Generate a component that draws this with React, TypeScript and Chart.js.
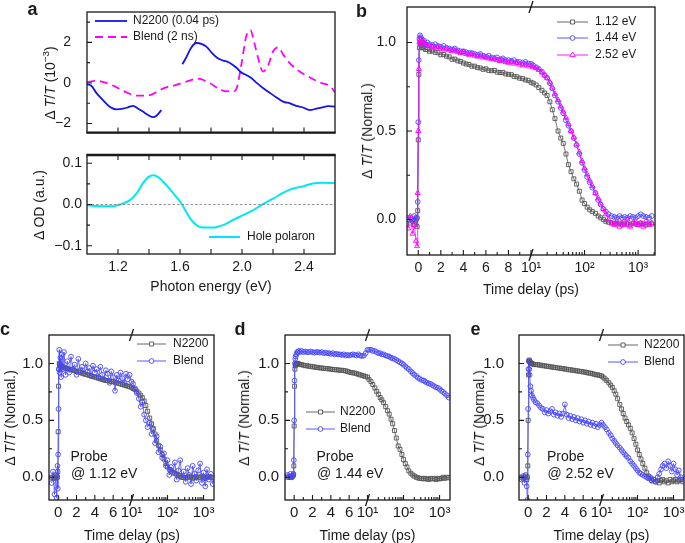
import React, { useEffect, useRef } from "react";
import { Chart, registerables } from "chart.js";

Chart.register(...registerables);

const FONT = '"Liberation Sans", Arial, Helvetica, sans-serif';
const INK = "#1a1a1a";
const GRAY = "rgb(85,85,85)";
const BLUE_PT = "rgb(70,70,255)";
const MAGENTA = "rgb(255,0,255)";
const LINE_BLUE = "rgb(20,20,235)";
const CYAN = "rgb(0,232,240)";

// ---------------- panel a data ----------------
const photonEnergyN2200 = [
  1.0, 1.028, 1.06, 1.103, 1.146, 1.19, 1.232, 1.265, 1.297, 1.33, 1.36, 1.394, 1.426, 1.448, 1.48,
  1.55,
  1.615, 1.641, 1.674, 1.706, 1.738, 1.77, 1.803, 1.835, 1.867, 1.9, 1.932, 1.964, 1.996, 2.03, 2.06,
  2.095, 2.135, 2.18, 2.22, 2.265, 2.31, 2.35, 2.39, 2.437, 2.48, 2.52, 2.555, 2.6,
];
const dTN2200 = [
  -0.07, -0.14, -0.49, -0.85, -1.17, -1.3, -1.27, -1.2, -1.13, -1.27, -1.41, -1.58, -1.69, -1.62, -1.34,
  null,
  0.92, 1.27, 1.76, 1.97, 1.93, 1.79, 1.51, 1.27, 1.13, 1.06, 0.94, 0.75, 0.52, 0.38, 0.24,
  0.0, -0.25, -0.49, -0.7, -0.92, -1.01, -1.13, -1.2, -1.34, -1.27, -1.2, -1.14, -1.17,
];
const photonEnergyBlend = [
  1.0, 1.06, 1.125, 1.19, 1.254, 1.32, 1.383, 1.448, 1.49, 1.555, 1.641, 1.716, 1.79, 1.867, 1.942,
  1.968, 1.996, 2.028, 2.054, 2.082, 2.11, 2.135, 2.168, 2.2, 2.232, 2.265, 2.308, 2.372, 2.437, 2.51,
  2.566, 2.6,
];
const dTBlend = [
  0.04, 0.1, 0.0, -0.21, -0.46, -0.63, -0.63, -0.46, -0.28, -0.14, 0.07, 0.21, 0.0, -0.35, -0.42,
  -0.21, 0.92, 2.32, 2.61, 1.9, 1.06, 0.56, 0.85, 1.55, 1.76, 1.41, 0.98, 0.56, 0.28, 0.0,
  -0.14, -0.46,
];
const photonEnergyPolaron = [
  1.0, 1.08, 1.168, 1.22, 1.275, 1.32, 1.36, 1.398, 1.43, 1.47, 1.512, 1.566, 1.61, 1.64, 1.674,
  1.706, 1.748, 1.813, 1.877, 1.94, 2.006, 2.07, 2.135, 2.2, 2.264, 2.33, 2.394, 2.458, 2.52, 2.6,
];
const dODPolaron = [
  -0.002, -0.004, -0.004, 0.001, 0.01, 0.027, 0.051, 0.067, 0.071, 0.063, 0.047, 0.023, 0.002, -0.018, -0.038,
  -0.05, -0.056, -0.056, -0.05, -0.038, -0.026, -0.014, 0.001, 0.014, 0.028, 0.039, 0.044, 0.051, 0.053, 0.052,
];

// ---------------- kinetics data (time delay in ps) ----------------
// panel b: linear 0-10 ps, then log
const timeDelay = [
  -0.9, -0.7, -0.5, -0.35, -0.2, -0.1, -0.05, 0, 0.05,
  0.1, 0.15, 0.2, 0.3, 0.4, 0.5, 0.65, 0.8, 1.0,
  1.25, 1.5, 1.75, 2, 2.25, 2.5, 2.75, 3, 3.25,
  3.5, 3.75, 4, 4.25, 4.5, 4.75, 5, 5.25, 5.5,
  5.75, 6, 6.25, 6.5, 6.75, 7, 7.25, 7.5, 7.75,
  8, 8.25, 8.5, 8.75, 9, 9.25, 9.5, 9.75, 10,
  11, 12.5, 14, 16, 18, 20, 22.5, 25, 28,
  32, 36, 40, 45, 50, 56, 63, 71, 80,
  90, 100, 112, 125, 140, 160, 180, 200, 225,
  250, 280, 320, 360, 400, 450, 500, 560, 630,
  710, 800, 900, 1000, 1120, 1250, 1400, 1600, 1800,
];
// panels c-e: linear 0-8 ps, then log from 10 ps
const timeDelayLower = [
  -0.72, -0.56, -0.4, -0.28, -0.16, -0.08, -0.04, 0, 0.04,
  0.08, 0.12, 0.16, 0.24, 0.32, 0.4, 0.52, 0.64, 0.8,
  1.0, 1.2, 1.4, 1.6, 1.8, 2.0, 2.2, 2.4, 2.6,
  2.8, 3.0, 3.2, 3.4, 3.6, 3.8, 4.0, 4.2, 4.4,
  4.6, 4.8, 5.0, 5.2, 5.4, 5.6, 5.8, 6.0, 6.2,
  6.4, 6.6, 6.8, 7.0, 7.2, 7.4, 7.6, 7.8, 8.0,
  11, 12.5, 14, 16, 18, 20, 22.5, 25, 28,
  32, 36, 40, 45, 50, 56, 63, 71, 80,
  90, 100, 112, 125, 140, 160, 180, 200, 225,
  250, 280, 320, 360, 400, 450, 500, 560, 630,
  710, 800, 900, 1000, 1120, 1250, 1400, 1600, 1800,
];

const n2200Probe112 = [
  0.01, -0.02, 0.0, -0.03, 0.01, -0.04, 0.05, 0.45, 0.82,
  0.97, 1.0, 0.99, 0.98, 0.97, 0.97, 0.96, 0.96, 0.95,
  0.952, 0.944, 0.942, 0.93, 0.932, 0.922, 0.918, 0.905, 0.906,
  0.896, 0.893, 0.884, 0.878, 0.876, 0.866, 0.866, 0.858, 0.856,
  0.848, 0.851, 0.842, 0.84, 0.842, 0.832, 0.83, 0.831, 0.822,
  0.82, 0.818, 0.808, 0.806, 0.798, 0.796, 0.788, 0.786, 0.775,
  0.77, 0.76, 0.745, 0.73, 0.715, 0.7, 0.665, 0.62, 0.57,
  0.5, 0.46, 0.43, 0.37, 0.31, 0.27, 0.23, 0.2, 0.16,
  0.11, 0.09, 0.07, 0.055, 0.045, 0.035, 0.02, 0.01, 0.0,
  -0.01, -0.015, -0.02, -0.02, -0.025, -0.02, -0.03, -0.02, -0.025,
  -0.03, -0.02, -0.025, -0.03, -0.02, -0.025, -0.03, -0.02, -0.025,
];
const n2200Probe144 = [
  0.0, 0.01, -0.01, 0.02, 0.0, 0.01, 0.1, 0.55, 0.9,
  1.02, 1.04, 1.03, 1.02, 1.0, 1.01, 0.99, 1.0, 0.99,
  0.985, 0.99, 0.98, 0.975, 0.98, 0.97, 0.965, 0.96, 0.965,
  0.955, 0.95, 0.95, 0.945, 0.94, 0.94, 0.935, 0.93, 0.935,
  0.925, 0.92, 0.925, 0.915, 0.91, 0.915, 0.905, 0.91, 0.9,
  0.9, 0.895, 0.9, 0.89, 0.89, 0.885, 0.89, 0.88, 0.88,
  0.87, 0.86, 0.85, 0.835, 0.815, 0.8, 0.77, 0.74, 0.7,
  0.665, 0.63, 0.6, 0.56, 0.53, 0.5, 0.46, 0.42, 0.37,
  0.32, 0.28, 0.24, 0.21, 0.18, 0.15, 0.11, 0.085, 0.06,
  0.045, 0.03, 0.02, 0.015, 0.01, 0.02, 0.01, 0.015, 0.01,
  0.02, 0.015, 0.01, 0.02, 0.03, 0.02, 0.015, 0.01, 0.02,
];
const n2200Probe252 = [
  -0.05, 0.02, -0.08, -0.03, -0.12, -0.15, 0.15, 0.5, 0.85,
  1.0, 1.02, 1.0, 0.99, 1.01, 0.98, 0.99, 0.98, 0.98,
  0.975, 0.97, 0.975, 0.965, 0.96, 0.965, 0.955, 0.95, 0.955,
  0.945, 0.94, 0.945, 0.935, 0.93, 0.935, 0.925, 0.92, 0.925,
  0.915, 0.915, 0.91, 0.905, 0.91, 0.9, 0.895, 0.9, 0.89,
  0.885, 0.89, 0.88, 0.885, 0.875, 0.87, 0.875, 0.865, 0.87,
  0.86, 0.855, 0.845, 0.83, 0.815, 0.8, 0.775, 0.745, 0.71,
  0.675, 0.64, 0.61, 0.575, 0.54, 0.5, 0.465, 0.425, 0.38,
  0.33, 0.29, 0.255, 0.22, 0.19, 0.15, 0.12, 0.09, 0.06,
  0.03, 0.0, -0.02, -0.03, -0.01, -0.04, -0.02, -0.03, 0.0,
  -0.04, -0.02, -0.01, -0.03, -0.02, -0.04, -0.01, -0.03, -0.02,
];

const cN2200 = [
  0.0, 0.0, -0.01, 0.0, 0.01, 0.0, 0.05, 0.4, 0.8,
  0.95, 1.0, 0.99, 0.98, 0.98, 0.97, 0.97, 0.96, 0.96,
  0.955, 0.95, 0.945, 0.94, 0.935, 0.93, 0.925, 0.92, 0.915,
  0.91, 0.905, 0.9, 0.895, 0.89, 0.885, 0.88, 0.875, 0.87,
  0.865, 0.86, 0.855, 0.85, 0.85, 0.845, 0.84, 0.84, 0.835,
  0.83, 0.825, 0.82, 0.815, 0.81, 0.805, 0.8, 0.795, 0.79,
  0.78, 0.77, 0.755, 0.74, 0.72, 0.7, 0.67, 0.63, 0.58,
  0.52, 0.47, 0.43, 0.38, 0.32, 0.28, 0.24, 0.2, 0.16,
  0.12, 0.09, 0.07, 0.055, 0.045, 0.035, 0.025, 0.015, 0.01,
  0.0, 0.0, -0.005, 0.0, 0.005, 0.0, -0.01, 0.0, 0.005,
  -0.005, 0.0, 0.01, 0.0, -0.01, 0.0, 0.005, 0.0, -0.005,
];
const cBlend = [
  -0.05, 0.05, -0.15, 0.02, -0.18, 0.1, -0.1, 0.2, 0.6,
  0.95, 1.12, 0.92, 1.05, 0.88, 1.08, 0.95, 1.1, 0.9,
  1.02, 0.92, 1.06, 0.95, 0.99, 0.9, 1.04, 0.94, 0.97,
  0.91, 1.0, 0.93, 0.96, 0.89, 0.98, 0.92, 0.95, 0.88,
  0.97, 0.9, 0.86, 0.94, 0.91, 0.83, 0.93, 0.88, 0.76,
  0.9, 0.85, 0.92, 0.87, 0.83, 0.91, 0.86, 0.9, 0.84,
  0.82, 0.78, 0.74, 0.69, 0.62, 0.66, 0.55, 0.5, 0.44,
  0.48, 0.38, 0.42, 0.3, 0.36, 0.22, 0.27, 0.17, 0.21,
  0.1, 0.15, 0.02, 0.09, 0.04, 0.13, -0.02, 0.06, 0.15,
  0.0, 0.05, -0.04, 0.08, 0.02, -0.06, 0.1, 0.03, -0.03,
  0.06, 0.12, -0.05, 0.04, -0.08, 0.07, -0.02, 0.03, -0.06,
];

const dN2200 = [
  0.0, 0.01, 0.0, 0.0, 0.01, 0.02, 0.1, 0.45, 0.8,
  0.95, 0.98, 0.99, 1.0, 1.0, 1.0, 0.995, 0.99, 0.99,
  0.985, 0.98, 0.98, 0.975, 0.975, 0.97, 0.97, 0.965, 0.965,
  0.96, 0.96, 0.958, 0.955, 0.955, 0.952, 0.95, 0.948, 0.945,
  0.945, 0.942, 0.94, 0.94, 0.938, 0.935, 0.93, 0.925, 0.92,
  0.918, 0.915, 0.91, 0.905, 0.9, 0.895, 0.89, 0.885, 0.88,
  0.86, 0.84, 0.815, 0.785, 0.755, 0.73, 0.7, 0.68, 0.655,
  0.62, 0.585, 0.555, 0.51, 0.47, 0.41, 0.345, 0.275, 0.245,
  0.2, 0.155, 0.12, 0.09, 0.055, 0.035, 0.02, 0.01, 0.0,
  -0.005, -0.01, -0.01, -0.015, -0.01, -0.015, -0.02, -0.01, -0.015,
  -0.01, -0.02, -0.01, -0.015, -0.01, 0.0, -0.01, 0.0, -0.005,
];
const dBlend = [
  0.02, 0.0, 0.03, 0.0, 0.01, 0.03, 0.15, 0.5, 0.85,
  1.0, 1.04, 1.06, 1.08, 1.1, 1.1, 1.11, 1.1, 1.11,
  1.1, 1.105, 1.1, 1.1, 1.105, 1.1, 1.095, 1.1, 1.1,
  1.095, 1.1, 1.09, 1.095, 1.09, 1.09, 1.085, 1.09, 1.08,
  1.085, 1.08, 1.08, 1.075, 1.08, 1.07, 1.075, 1.07, 1.075,
  1.08, 1.075, 1.07, 1.08, 1.07, 1.065, 1.07, 1.09, 1.12,
  1.12, 1.12, 1.11, 1.11, 1.1, 1.09, 1.09, 1.08, 1.08,
  1.07, 1.065, 1.06, 1.05, 1.045, 1.04, 1.03, 1.02, 1.01,
  1.0, 0.99, 0.975, 0.96, 0.95, 0.93, 0.915, 0.9, 0.89,
  0.875, 0.865, 0.855, 0.85, 0.84, 0.83, 0.825, 0.82, 0.81,
  0.8, 0.79, 0.785, 0.775, 0.76, 0.75, 0.735, 0.72, 0.7,
];

const eN2200 = [
  0.0, -0.01, 0.0, 0.01, -0.02, 0.0, 0.1, 0.5, 0.9,
  1.02, 1.03, 1.02, 1.01, 1.0, 1.0, 0.995, 0.99, 0.99,
  0.99, 0.985, 0.985, 0.98, 0.98, 0.975, 0.975, 0.97, 0.97,
  0.965, 0.965, 0.96, 0.96, 0.955, 0.955, 0.95, 0.95, 0.945,
  0.945, 0.94, 0.94, 0.935, 0.935, 0.93, 0.93, 0.925, 0.925,
  0.92, 0.915, 0.915, 0.91, 0.905, 0.9, 0.9, 0.895, 0.89,
  0.88, 0.865, 0.85, 0.83, 0.81, 0.79, 0.76, 0.73, 0.69,
  0.64, 0.6, 0.56, 0.52, 0.49, 0.46, 0.43, 0.39, 0.34,
  0.29, 0.24, 0.2, 0.16, 0.12, 0.08, 0.04, 0.01, -0.01,
  -0.03, -0.02, -0.04, -0.03, -0.05, -0.03, -0.02, -0.04, -0.03,
  -0.05, -0.02, -0.04, -0.03, -0.02, -0.04, -0.03, -0.02, -0.04,
];
const eBlend = [
  -0.02, 0.01, -0.05, 0.02, -0.08, -0.2, 0.2, 0.6, 0.95,
  1.02, 0.95, 0.9, 0.8, 0.76, 0.72, 0.7, 0.68, 0.66,
  0.65, 0.63, 0.61, 0.6, 0.57, 0.59, 0.56, 0.58, 0.6,
  0.55, 0.57, 0.54, 0.56, 0.53, 0.56, 0.64, 0.55, 0.52,
  0.54, 0.51, 0.53, 0.5, 0.52, 0.49, 0.51, 0.48, 0.5,
  0.47, 0.49, 0.46, 0.48, 0.45, 0.47, 0.44, 0.46, 0.48,
  0.46, 0.44, 0.42, 0.39, 0.37, 0.34, 0.32, 0.3, 0.28,
  0.26, 0.24, 0.22, 0.2, 0.185, 0.17, 0.14, 0.12, 0.1,
  0.08, 0.06, 0.04, 0.03, 0.02, 0.01, 0.0, -0.01, 0.0,
  -0.03, -0.02, -0.04, 0.0, 0.03, 0.07, 0.1, 0.12, 0.08,
  0.14, 0.1, 0.05, 0.12, 0.07, 0.02, 0.06, 0.0, -0.02,
];

// ---------------- ticks ----------------
const energyTickLabels = [1.2, 1.6, 2.0, 2.4];
const energyTickMarks = [1.2, 1.4, 1.6, 1.8, 2.0, 2.2, 2.4];
const aTopTicks = [-2, 0, 2];
const aTopMinor = [-1, 1, 3];
const aBotTicks = [-0.1, 0, 0.1];
const aBotMinor = [-0.05, 0.05];
const normTicks = [0, 0.5, 1.0];
const normMinor = [0.25, 0.75];
const bLinearTicks = [0, 2, 4, 6, 8];
const bLinearMinor = [1, 3, 5, 7, 9];
const lowerLinearTicks = [0, 2, 4, 6];
const lowerLinearMinor = [1, 3, 5, 7];
const decadeTicks = [10, 100, 1000];
const decadeLabels = ["10\u00b9", "10\u00b2", "10\u00b3"];
const decadeMinor = [20, 30, 40, 50, 60, 70, 80, 90, 200, 300, 400, 500, 600, 700, 800, 900, 2000];

type Mark = [number, number];

// broken time axis: linear part up to the break, logarithmic from 10 ps on
function makeAxis(breakAt: number, decade: number, linTicks: number[], linMinor: number[], xMax: number) {
  const tx = (t: number) => (t <= breakAt ? t : breakAt + decade * Math.log10(t / 10));
  const marks: Mark[] = [
    ...linTicks.map((v) => [v, 5] as Mark),
    ...linMinor.map((v) => [v, 3] as Mark),
    ...decadeTicks.map((t) => [tx(t), 5] as Mark),
    ...decadeMinor.map((t) => [tx(t), 3] as Mark),
  ].filter((m) => m[0] < xMax);
  const ticks = [...linTicks, ...decadeTicks.map(tx)];
  const label = (v: number) => {
    const i = decadeTicks.findIndex((t) => Math.abs(tx(t) - v) < 1e-6);
    return i >= 0 ? decadeLabels[i] : String(v);
  };
  return { tx, marks, ticks, label, breakAt };
}
const axisB = makeAxis(10, 4.75, bLinearTicks, bLinearMinor, 21);
const axisLower = makeAxis(8, 3.93, lowerLinearTicks, lowerLinearMinor, 17);

const minusFmt = (v: number, d: number) => (v < 0 ? "\u2212" : "") + Math.abs(v).toFixed(d);

const curve = (xs: number[], ys: (number | null)[]) => xs.map((x, i) => ({ x, y: ys[i] }));
const kin = (times: number[], ys: number[], tx: (t: number) => number) =>
  times.map((t, i) => ({ x: tx(t), y: ys[i] }));

const series = (data: any[], color: string, style: string, order: number) => ({
  data,
  borderColor: color,
  borderWidth: 0.8,
  pointStyle: style,
  pointRadius: style === "rect" ? 2.8 : style === "triangle" ? 3.0 : 2.4,
  pointBorderColor: color,
  pointBorderWidth: 0.9,
  pointBackgroundColor: "rgba(255,255,255,0)",
  tension: 0,
  order,
});

const normMarks: Mark[] = [...normTicks.map((v) => [v, 5] as Mark), ...normMinor.map((v) => [v, 3] as Mark)];

interface LegendItem {
  label: string; color: string; x1: number; x2: number; tx: number; y: number;
  dash?: number[]; marker?: string; lw?: number;
}
interface Spec {
  area: [number, number, number, number];
  marg: { l: number; t: number; r: number; b: number };
  datasets: any[];
  xRange: [number, number]; yRange: [number, number];
  xTicks: number[]; xLabel: (v: number) => string; showX: boolean; xPad: number;
  yTicks: number[]; yLabel: (v: number) => string; yPad: number;
  tickSize: number;
  xMarks: Mark[]; yMarks: Mark[]; xTopMarks?: boolean;
  breakAt?: number; zeroLine?: boolean; thickTop?: boolean; thickBottom?: boolean;
  legend: LegendItem[];
}

function drawMarker(ctx: CanvasRenderingContext2D, style: string, x: number, y: number, color: string) {
  ctx.save();
  ctx.fillStyle = "#fff";
  ctx.strokeStyle = color;
  ctx.lineWidth = 0.9;
  ctx.beginPath();
  if (style === "rect") ctx.rect(x - 2, y - 2, 4, 4);
  else if (style === "circle") ctx.arc(x, y, 2.4, 0, Math.PI * 2);
  else { ctx.moveTo(x, y - 3); ctx.lineTo(x + 2.7, y + 1.6); ctx.lineTo(x - 2.7, y + 1.6); ctx.closePath(); }
  ctx.fill();
  ctx.stroke();
  ctx.restore();
}

function makeDecor(spec: Spec) {
  return {
    id: "decor",
    afterDraw(chart: any) {
      const ctx: CanvasRenderingContext2D = chart.ctx;
      const ca = chart.chartArea;
      const xs = chart.scales.x;
      const ys = chart.scales.y;
      const ox = spec.area[0] - spec.marg.l;
      const oy = spec.area[1] - spec.marg.t;
      ctx.save();
      if (spec.zeroLine) {
        const py = ys.getPixelForValue(0);
        ctx.strokeStyle = "#777";
        ctx.lineWidth = 0.8;
        ctx.setLineDash([2.5, 2]);
        ctx.beginPath();
        ctx.moveTo(ca.left, py);
        ctx.lineTo(ca.right, py);
        ctx.stroke();
        ctx.setLineDash([]);
      }
      ctx.strokeStyle = INK;
      ctx.lineWidth = 1.1;
      ctx.beginPath();
      for (const [v, len] of spec.xMarks) {
        const px = xs.getPixelForValue(v);
        ctx.moveTo(px, ca.bottom);
        ctx.lineTo(px, ca.bottom - len);
        if (spec.xTopMarks) {
          ctx.moveTo(px, ca.top);
          ctx.lineTo(px, ca.top + len);
        }
      }
      for (const [v, len] of spec.yMarks) {
        const py = ys.getPixelForValue(v);
        ctx.moveTo(ca.left, py);
        ctx.lineTo(ca.left + len, py);
      }
      ctx.stroke();
      ctx.lineWidth = 1.3;
      ctx.strokeRect(ca.left, ca.top, ca.right - ca.left, ca.bottom - ca.top);
      ctx.lineWidth = 2.4;
      if (spec.thickTop) {
        ctx.beginPath(); ctx.moveTo(ca.left - 0.6, ca.top); ctx.lineTo(ca.right + 0.6, ca.top); ctx.stroke();
      }
      if (spec.thickBottom) {
        ctx.beginPath(); ctx.moveTo(ca.left - 0.6, ca.bottom); ctx.lineTo(ca.right + 0.6, ca.bottom); ctx.stroke();
      }
      if (spec.breakAt !== undefined) {
        const px = xs.getPixelForValue(spec.breakAt);
        ctx.lineWidth = 1.3;
        ctx.beginPath();
        for (const y of [ca.top, ca.bottom]) {
          ctx.moveTo(px - 2, y + 6);
          ctx.lineTo(px + 2, y - 6);
        }
        ctx.stroke();
      }
      ctx.font = `12px ${FONT}`;
      ctx.textBaseline = "middle";
      ctx.textAlign = "left";
      for (const it of spec.legend) {
        const y = it.y - oy;
        ctx.strokeStyle = it.color;
        ctx.lineWidth = it.lw ?? 0.9;
        ctx.setLineDash(it.dash ?? []);
        ctx.beginPath();
        ctx.moveTo(it.x1 - ox, y);
        ctx.lineTo(it.x2 - ox, y);
        ctx.stroke();
        ctx.setLineDash([]);
        if (it.marker) drawMarker(ctx, it.marker, (it.x1 + it.x2) / 2 - ox, y, it.color);
        ctx.fillStyle = INK;
        ctx.fillText(it.label, it.tx - ox, y);
      }
      ctx.restore();
    },
  };
}

function buildConfig(spec: Spec): any {
  const m = spec.marg;
  const tickFont = { family: FONT, size: spec.tickSize };
  return {
    type: "line",
    data: { datasets: spec.datasets },
    options: {
      animation: false,
      responsive: false,
      devicePixelRatio: 1,
      events: [],
      layout: { padding: { left: 0, top: m.t, right: m.r, bottom: 0 } },
      plugins: { legend: { display: false }, tooltip: { enabled: false } },
      scales: {
        x: {
          type: "linear",
          min: spec.xRange[0],
          max: spec.xRange[1],
          grid: { display: false, drawTicks: false },
          border: { display: false },
          ticks: {
            display: spec.showX, padding: spec.xPad, font: tickFont, color: INK,
            autoSkip: false, maxRotation: 0, minRotation: 0,
            callback: (v: any) => spec.xLabel(Number(v)),
          },
          afterBuildTicks: (s: any) => { s.ticks = spec.xTicks.map((v) => ({ value: v })); },
          afterFit: (s: any) => { s.height = m.b; },
        },
        y: {
          type: "linear",
          min: spec.yRange[0],
          max: spec.yRange[1],
          grid: { display: false, drawTicks: false },
          border: { display: false },
          ticks: {
            padding: spec.yPad, font: tickFont, color: INK, autoSkip: false,
            callback: (v: any) => spec.yLabel(Number(v)),
          },
          afterBuildTicks: (s: any) => { s.ticks = spec.yTicks.map((v) => ({ value: v })); },
          afterFit: (s: any) => { s.width = m.l; },
        },
      },
    },
    plugins: [makeDecor(spec)],
  };
}

// ---------------- panel specs ----------------
const energyMarks: Mark[] = energyTickMarks.map((v) => [v, 5] as Mark);

const specATop: Spec = {
  area: [87, 12, 335, 153],
  marg: { l: 87, t: 30, r: 30, b: 4 },
  datasets: [
    { data: curve(photonEnergyBlend, dTBlend), borderColor: MAGENTA, borderWidth: 1.8, borderDash: [8, 5], pointRadius: 0, cubicInterpolationMode: "monotone", order: 1 },
    { data: curve(photonEnergyN2200, dTN2200), borderColor: LINE_BLUE, borderWidth: 1.8, pointRadius: 0, cubicInterpolationMode: "monotone", spanGaps: false, order: 0 },
  ],
  xRange: [1.0, 2.6], yRange: [-2.45, 3.5],
  xTicks: energyTickLabels, xLabel: (v) => v.toFixed(1), showX: false, xPad: 4,
  yTicks: aTopTicks, yLabel: (v) => (v === 0 ? "0" : minusFmt(v, 0)), yPad: 16,
  tickSize: 14,
  xMarks: energyMarks,
  yMarks: [...aTopTicks.map((v) => [v, 5] as Mark), ...aTopMinor.map((v) => [v, 3] as Mark)],
  thickBottom: true,
  legend: [
    { label: "N2200 (0.04 ps)", color: LINE_BLUE, x1: 95, x2: 127, tx: 133, y: 21, lw: 1.8 },
    { label: "Blend (2 ns)", color: MAGENTA, x1: 95, x2: 127, tx: 133, y: 37, lw: 1.8, dash: [8, 5] },
  ],
};

const specABot: Spec = {
  area: [87, 155, 335, 254],
  marg: { l: 87, t: 30, r: 30, b: 45 },
  datasets: [
    { data: curve(photonEnergyPolaron, dODPolaron), borderColor: CYAN, borderWidth: 2, pointRadius: 0, cubicInterpolationMode: "monotone" },
  ],
  xRange: [1.0, 2.6], yRange: [-0.12, 0.12],
  xTicks: energyTickLabels, xLabel: (v) => v.toFixed(1), showX: true, xPad: 5,
  yTicks: aBotTicks, yLabel: (v) => minusFmt(v, 1), yPad: 5,
  tickSize: 14,
  xMarks: energyMarks, xTopMarks: true,
  yMarks: [...aBotTicks.map((v) => [v, 5] as Mark), ...aBotMinor.map((v) => [v, 3] as Mark)],
  zeroLine: true, thickTop: true,
  legend: [{ label: "Hole polaron", color: CYAN, x1: 209, x2: 240, tx: 247, y: 237, lw: 2 }],
};

const specB: Spec = {
  area: [407, 7, 655, 255],
  marg: { l: 60, t: 30, r: 25, b: 45 },
  datasets: [
    series(kin(timeDelay, n2200Probe112, axisB.tx), GRAY, "rect", 2),
    series(kin(timeDelay, n2200Probe144, axisB.tx), BLUE_PT, "circle", 1),
    series(kin(timeDelay, n2200Probe252, axisB.tx), MAGENTA, "triangle", 0),
  ],
  xRange: [-1, 21], yRange: [-0.2, 1.2],
  xTicks: axisB.ticks, xLabel: axisB.label, showX: true, xPad: 5,
  yTicks: normTicks, yLabel: (v) => minusFmt(v, 1), yPad: 11,
  tickSize: 14,
  xMarks: axisB.marks, yMarks: normMarks, breakAt: axisB.breakAt,
  legend: [
    { label: "1.12 eV", color: GRAY, x1: 557, x2: 588, tx: 595, y: 22, marker: "rect" },
    { label: "1.44 eV", color: BLUE_PT, x1: 557, x2: 588, tx: 595, y: 38, marker: "circle" },
    { label: "2.52 eV", color: MAGENTA, x1: 557, x2: 588, tx: 595, y: 55, marker: "triangle" },
  ],
};

const lowerSpec = (
  area: [number, number, number, number], yPad: number, n2200: number[], blend: number[],
  leg: { x1: number; x2: number; tx: number; y1: number; y2: number }
): Spec => ({
  area,
  marg: { l: 60, t: 30, r: 20, b: 30 },
  datasets: [
    series(kin(timeDelayLower, n2200, axisLower.tx), GRAY, "rect", 1),
    series(kin(timeDelayLower, blend, axisLower.tx), BLUE_PT, "circle", 0),
  ],
  xRange: [-1, 17], yRange: [-0.2, 1.25],
  xTicks: axisLower.ticks, xLabel: axisLower.label, showX: true, xPad: 4,
  yTicks: normTicks, yLabel: (v) => minusFmt(v, 1), yPad,
  tickSize: 15,
  xMarks: axisLower.marks, yMarks: normMarks, breakAt: axisLower.breakAt,
  legend: [
    { label: "N2200", color: GRAY, x1: leg.x1, x2: leg.x2, tx: leg.tx, y: leg.y1, marker: "rect" },
    { label: "Blend", color: BLUE_PT, x1: leg.x1, x2: leg.x2, tx: leg.tx, y: leg.y2, marker: "circle" },
  ],
});

const specC = lowerSpec([49, 335, 214, 500], 6, cN2200, cBlend, { x1: 137, x2: 166, tx: 173, y1: 344, y2: 361 });
const specD = lowerSpec([285, 335, 450, 500], 6, dN2200, dBlend, { x1: 306, x2: 335, tx: 340, y1: 412, y2: 429 });
const specE = lowerSpec([519, 335, 684, 500], 15, eN2200, eBlend, { x1: 608, x2: 638, tx: 644, y1: 345, y2: 362 });

const SPECS = [specATop, specABot, specB, specC, specD, specE];

function ChartPanel({ spec }: { spec: Spec }) {
  const ref = useRef<HTMLCanvasElement>(null);
  useEffect(() => {
    const chart = new Chart(ref.current as HTMLCanvasElement, buildConfig(spec));
    return () => chart.destroy();
  }, [spec]);
  const [l, t, r, b] = spec.area;
  const m = spec.marg;
  const w = r - l + m.l + m.r;
  const h = b - t + m.t + m.b;
  return (
    <canvas
      ref={ref}
      width={w}
      height={h}
      style={{ position: "absolute", left: l - m.l, top: t - m.t, width: w, height: h }}
    />
  );
}

const base = (size: number) => 0.8465 * size;

function Txt(props: { x: number; y: number; size?: number; bold?: boolean; center?: boolean; children: any }) {
  const size = props.size ?? 14;
  return (
    <div
      style={{
        position: "absolute", left: props.x, top: props.y - base(size), fontSize: size,
        lineHeight: `${size}px`, fontWeight: props.bold ? "bold" : "normal", whiteSpace: "nowrap",
        transform: props.center ? "translateX(-50%)" : undefined, color: INK, fontFamily: FONT,
      }}
    >
      {props.children}
    </div>
  );
}

function VTxt(props: { cx: number; cy: number; size?: number; children: any }) {
  const size = props.size ?? 14;
  return (
    <div
      style={{
        position: "absolute", left: props.cx, top: props.cy, fontSize: size, lineHeight: `${size}px`,
        whiteSpace: "nowrap", transform: "translate(-50%,-50%) rotate(-90deg)", color: INK, fontFamily: FONT,
      }}
    >
      {props.children}
    </div>
  );
}

const sup = { fontSize: "70%", verticalAlign: "super", lineHeight: 0 } as const;
const NormTitle = () => (
  <span>
    {"\u0394 "}<i>T</i>/<i>T</i>{" (Normal.)"}
  </span>
);

export default function App() {
  return (
    <div
      style={{
        position: "absolute", left: 0, top: 0, width: 685, height: 543, overflow: "hidden",
        background: "#fff", fontFamily: FONT,
      }}
    >
      {SPECS.map((s, i) => (
        <ChartPanel key={i} spec={s} />
      ))}

      <Txt x={27.5} y={15} size={18} bold>a</Txt>
      <Txt x={356} y={17} size={18} bold>b</Txt>
      <Txt x={0} y={335} size={18} bold>c</Txt>
      <Txt x={234.5} y={335} size={18} bold>d</Txt>
      <Txt x={470.5} y={335} size={18} bold>e</Txt>

      <VTxt cx={50} cy={82.5}>
        <span>
          {"\u0394 "}<i>T</i>/<i>T</i>{" (10"}<span style={sup}>{"\u22123"}</span>{")"}
        </span>
      </VTxt>
      <VTxt cx={38.5} cy={204.5}>{"\u0394 OD (a.u.)"}</VTxt>
      <VTxt cx={367} cy={131}><NormTitle /></VTxt>
      <VTxt cx={10} cy={417.5}><NormTitle /></VTxt>
      <VTxt cx={244} cy={417.5}><NormTitle /></VTxt>
      <VTxt cx={479} cy={417.5}><NormTitle /></VTxt>

      <Txt x={211} y={291} center>Photon energy (eV)</Txt>
      <Txt x={531} y={294} center>Time delay (ps)</Txt>
      <Txt x={132} y={540} center>Time delay (ps)</Txt>
      <Txt x={367.5} y={540} center>Time delay (ps)</Txt>
      <Txt x={601.5} y={540} center>Time delay (ps)</Txt>

      <Txt x={70.5} y={460.7}>Probe</Txt>
      <Txt x={71} y={478}>@ 1.12 eV</Txt>
      <Txt x={316.5} y={460.7}>Probe</Txt>
      <Txt x={317} y={478}>@ 1.44 eV</Txt>
      <Txt x={547} y={460.7}>Probe</Txt>
      <Txt x={547.5} y={478}>@ 2.52 eV</Txt>
    </div>
  );
}
